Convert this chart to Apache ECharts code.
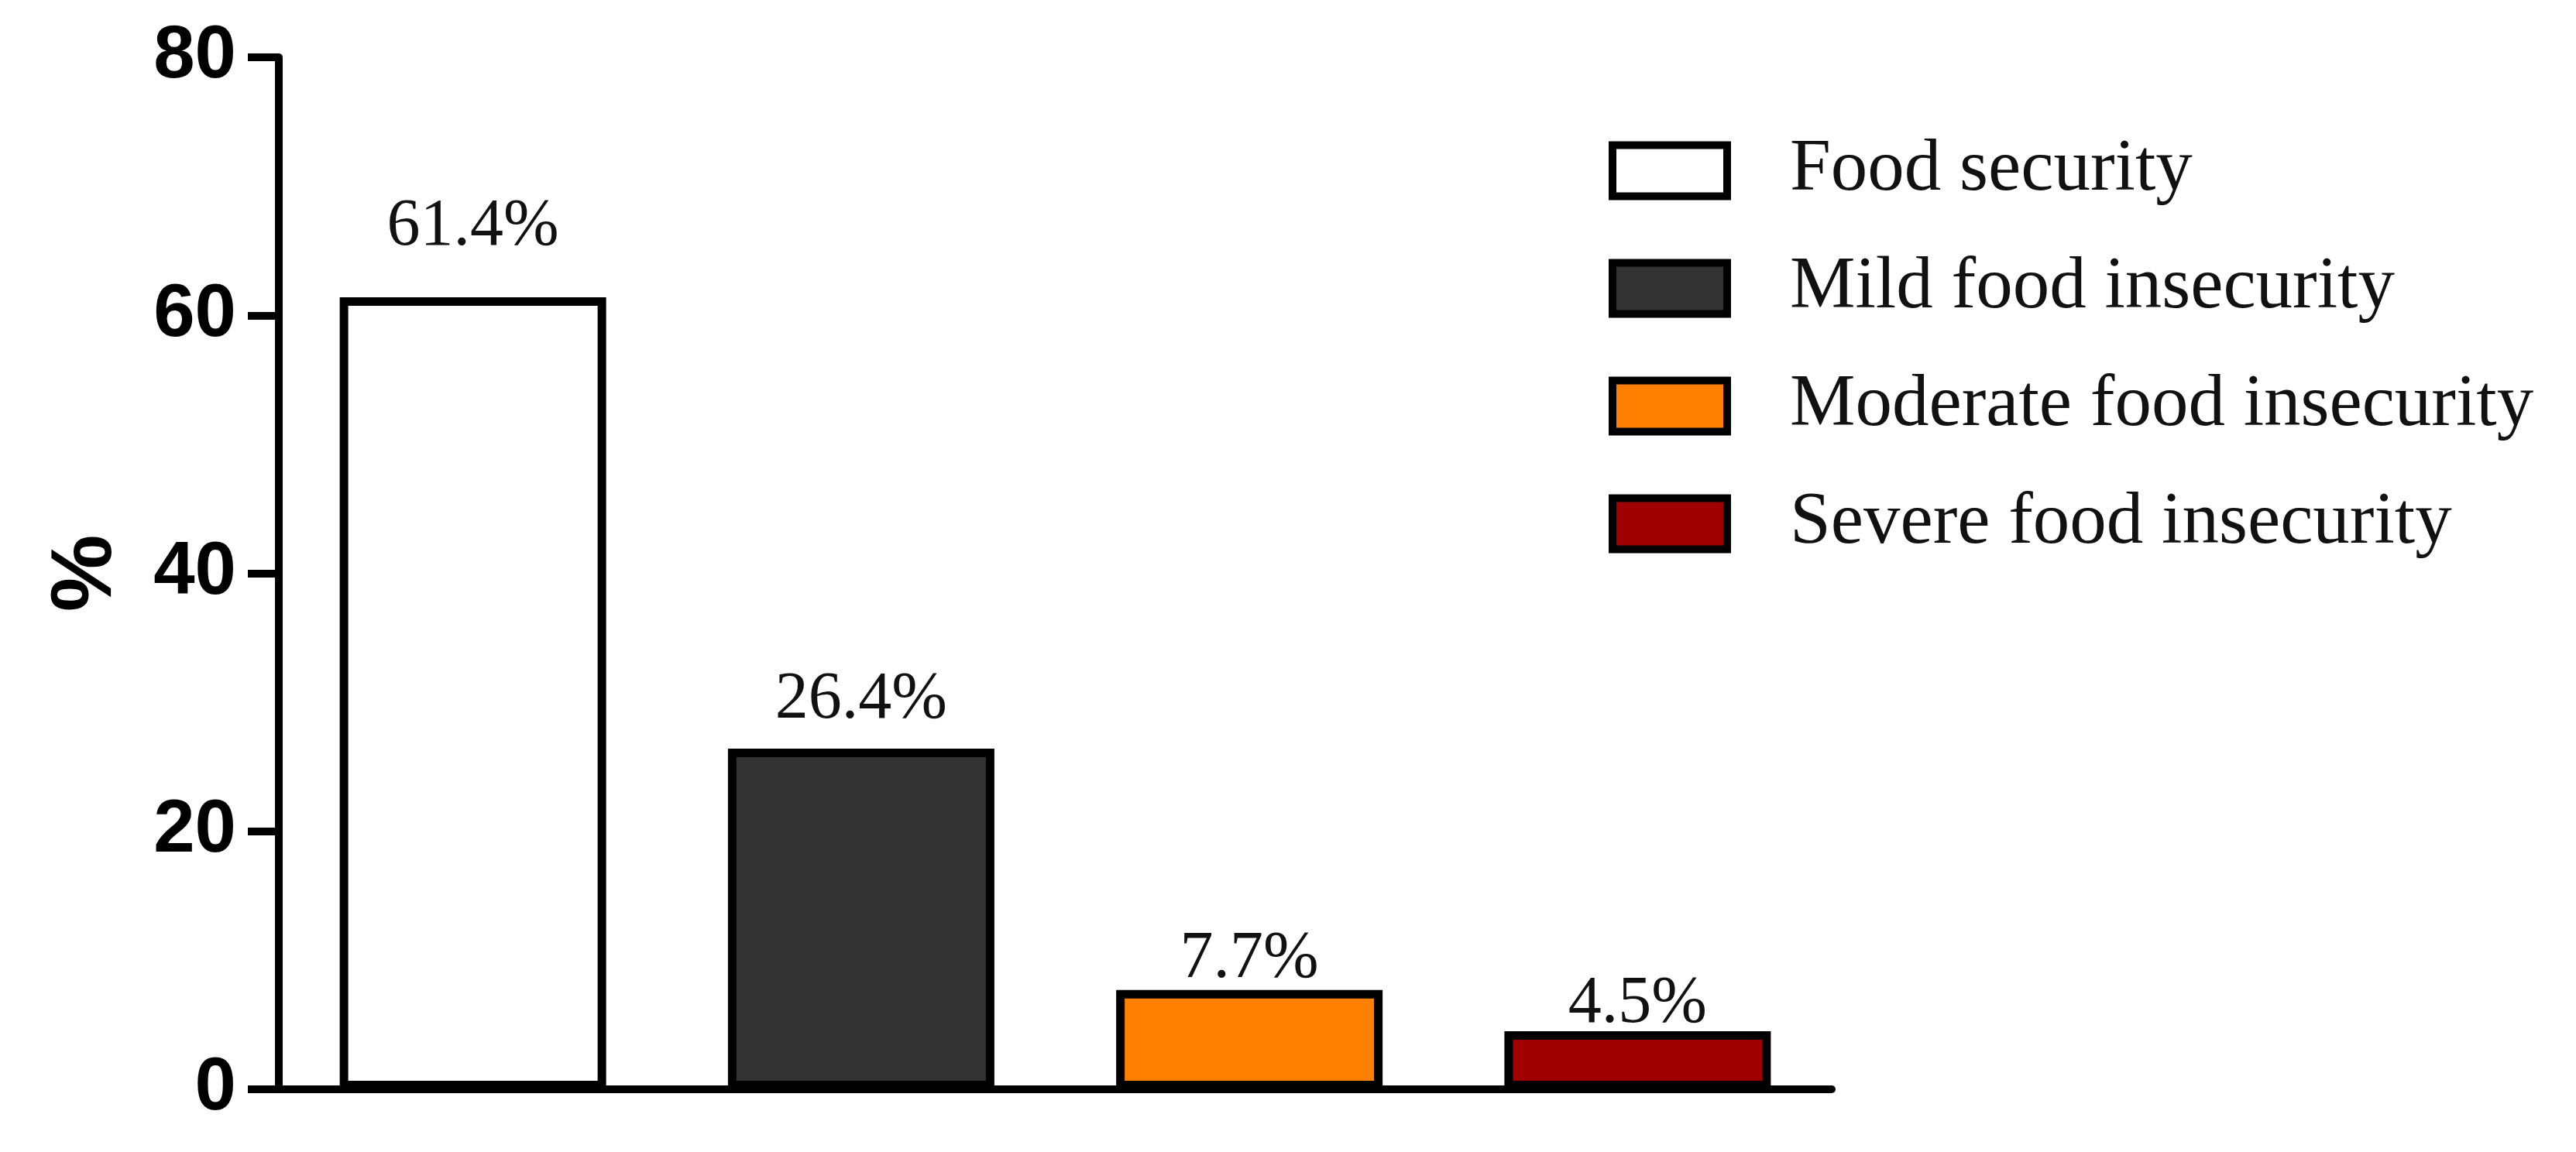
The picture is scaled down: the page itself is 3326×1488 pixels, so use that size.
<!DOCTYPE html>
<html>
<head>
<meta charset="utf-8">
<script src="https://cdn.jsdelivr.net/npm/echarts@6/dist/echarts.min.js"></script>
<style>html,body{margin:0;padding:0;background:#fff}#c{width:3326px;height:1488px}</style>
</head>
<body>
<div id="c"></div>
<script>
const categories = ['Food security', 'Mild food insecurity', 'Moderate food insecurity', 'Severe food insecurity'];
const values = [61.4, 26.4, 7.7, 4.5];
const barLabels = ['61.4%', '26.4%', '7.7%', '4.5%'];
const colors = ['#ffffff', '#333333', '#ff8000', '#a00000'];
const yTicks = [0, 20, 40, 60, 80];

// label distances above each bar (style only)
const labelDistance = [48, 20, -4, -8];

const serif = '"Liberation Serif", "DejaVu Serif", serif';
const series = categories.map((name, i) => ({
  name: name,
  type: 'bar',
  barWidth: 344,
  barGap: '-100%',
  data: categories.map((c, j) => j === i ? values[i] : '-'),
  itemStyle: { color: colors[i], borderColor: '#000', borderWidth: 11 },
  label: {
    show: true, position: 'top', distance: labelDistance[i],
    formatter: () => barLabels[i],
    fontFamily: serif, fontSize: 86, color: '#111'
  }
}));

const chart = echarts.init(document.getElementById('c'));
chart.setOption({
  animation: false,
  backgroundColor: '#fff',
  grid: { left: 360, right: 961, top: 74, bottom: 81, containLabel: false },
  legend: {
    orient: 'vertical', left: 2077, top: 173, padding: 0,
    itemWidth: 148, itemHeight: 66, itemGap: 57,
    icon: 'rect',
    itemStyle: { borderColor: '#000', borderWidth: 10 },
    data: categories,
    textStyle: { fontFamily: serif, fontSize: 95, color: '#111', padding: [0, 0, 0, 76] }
  },
  xAxis: {
    type: 'category', data: categories,
    axisLine: { lineStyle: { color: '#000', width: 10 } },
    axisTick: { show: false }, axisLabel: { show: false }
  },
  yAxis: {
    type: 'value', min: yTicks[0], max: yTicks[yTicks.length - 1], interval: 20,
    name: '%', nameLocation: 'middle', nameGap: 192, nameRotate: 90,
    nameTextStyle: { fontFamily: '"Liberation Sans", Arial, sans-serif', fontWeight: 'bold', fontSize: 112, color: '#000' },
    axisLine: { show: true, lineStyle: { color: '#000', width: 10 } },
    axisTick: { show: true, length: 40, lineStyle: { color: '#000', width: 10 } },
    axisLabel: { margin: 55, fontFamily: '"Liberation Sans", Arial, sans-serif', fontWeight: 'bold', fontSize: 96, color: '#000' },
    splitLine: { show: false }
  },
  series: series
});
</script>
</body>
</html>
